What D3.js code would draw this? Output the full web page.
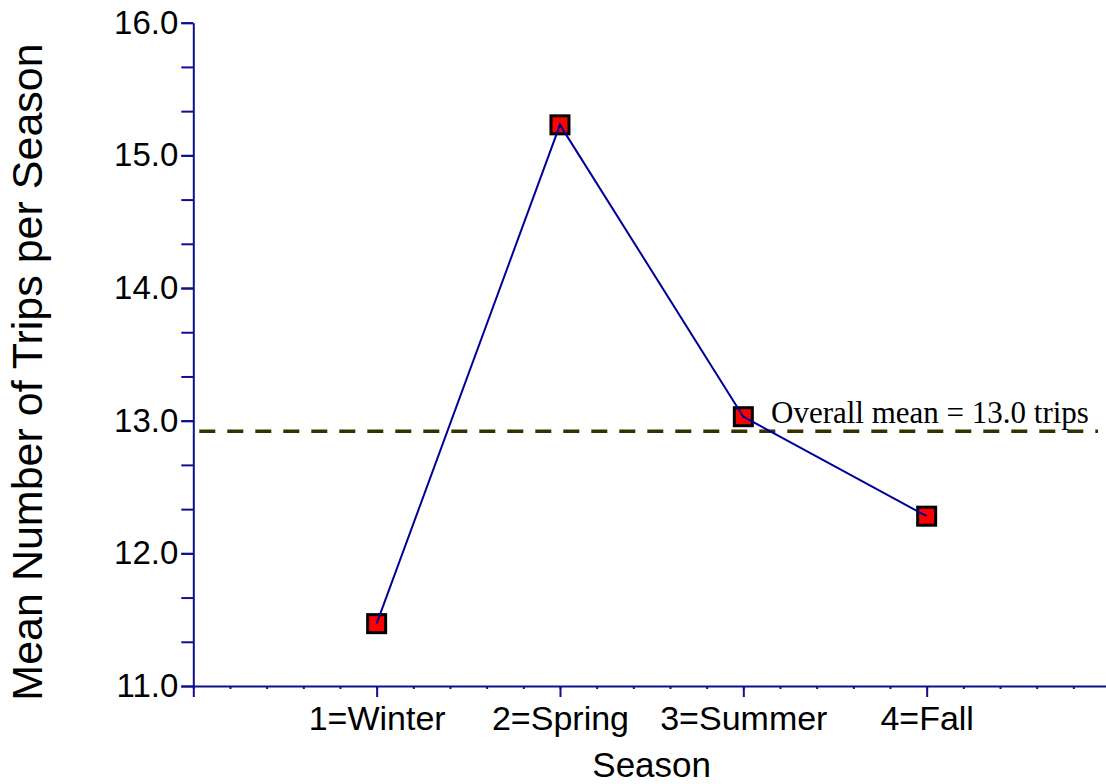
<!DOCTYPE html>
<html>
<head>
<meta charset="utf-8">
<script src="https://cdn.jsdelivr.net/npm/d3@7"></script>
<style>
  html, body { margin: 0; padding: 0; background: #fff; }
  svg { display: block; }
</style>
</head>
<body>
<svg id="chart" width="1106" height="784"></svg>
<script>
// ---- Data ----
const categories = ["1=Winter", "2=Spring", "3=Summer", "4=Fall"];
const positions = [1, 2, 3, 4];
const meanTrips = [11.47, 15.23, 13.03, 12.28];
const overallMean = 12.92;
const overallLabel = "Overall mean = 13.0 trips";
const yTicks = [11, 12, 13, 14, 15, 16];
const xTitle = "Season";
const yTitle = "Mean Number of Trips per Season";

// ---- Layout ----
const svg = d3.select("#chart");
const axisColor = "#10108c";
const x = d3.scaleLinear().domain([0, 5]).range([193.3, 1110]);
const y = d3.scaleLinear().domain([11, 16]).range([686, 22.7]);

// Y axis minor ticks
const yMinor = d3.range(11, 16.001, 1 / 3);
svg.append("g")
  .attr("transform", `translate(${x(0)},0)`)
  .call(d3.axisLeft(y).tickValues(yMinor).tickSize(12).tickSizeOuter(0).tickFormat(""))
  .call(g => g.select(".domain").remove())
  .call(g => g.selectAll("line").attr("stroke", axisColor).attr("stroke-width", 2));

// Y axis major
svg.append("g")
  .attr("transform", `translate(${x(0)},0)`)
  .call(d3.axisLeft(y).tickValues(yTicks).tickSize(12).tickSizeOuter(0).tickFormat(d3.format(".1f")))
  .call(g => g.select(".domain").attr("stroke", axisColor).attr("stroke-width", 2))
  .call(g => g.selectAll("line").attr("stroke", axisColor).attr("stroke-width", 2))
  .call(g => g.selectAll("text")
    .attr("fill", "#000")
    .attr("font-family", "'Liberation Sans', Arial, sans-serif")
    .attr("font-size", 33)
    .attr("x", -15)
    .attr("dy", "0.32em"));

// X axis minor
const xMinor = d3.range(0, 5.001, 0.2);
svg.append("g")
  .attr("transform", `translate(0,${y(11)})`)
  .call(d3.axisBottom(x).tickValues(xMinor).tickSize(3).tickSizeOuter(0).tickFormat(""))
  .call(g => g.select(".domain").attr("stroke", axisColor).attr("stroke-width", 2))
  .call(g => g.selectAll("line").attr("stroke", axisColor).attr("stroke-width", 2));

// X axis major
svg.append("g")
  .attr("transform", `translate(0,${y(11)})`)
  .call(d3.axisBottom(x).tickValues([0, ...positions, 5]).tickSize(11).tickSizeOuter(0)
    .tickFormat(d => { const i = positions.indexOf(d); return i >= 0 ? categories[i] : ""; }))
  .call(g => g.select(".domain").remove())
  .call(g => g.selectAll("line").attr("stroke", axisColor).attr("stroke-width", 2))
  .call(g => g.selectAll("text")
    .attr("fill", "#000")
    .attr("font-family", "'Liberation Sans', Arial, sans-serif")
    .attr("font-size", 34)
    .attr("y", 0)
    .attr("dy", 0)
    .attr("transform", "translate(0,44)"));

// Overall mean dashed line
svg.append("line")
  .attr("x1", x(0) + 6).attr("x2", 1098)
  .attr("y1", y(overallMean)).attr("y2", y(overallMean))
  .attr("stroke", "#333300")
  .attr("stroke-width", 3.5)
  .attr("stroke-dasharray", "16,12");

svg.append("text")
  .attr("x", 771).attr("y", y(overallMean) - 8)
  .attr("font-family", "'Liberation Serif', 'Times New Roman', serif")
  .attr("font-size", 31)
  .attr("fill", "#000")
  .text(overallLabel);

// Markers
const pts = positions.map((p, i) => ({ p, v: meanTrips[i] }));
svg.append("g").selectAll("rect").data(pts).join("rect")
  .attr("x", d => x(d.p) - 9).attr("y", d => y(d.v) - 9)
  .attr("width", 18).attr("height", 18)
  .attr("fill", "#ff0000").attr("stroke", "#000").attr("stroke-width", 3);

// Line on top
svg.append("path")
  .datum(pts)
  .attr("fill", "none")
  .attr("stroke", "#000099")
  .attr("stroke-width", 2)
  .attr("d", d3.line().x(d => x(d.p)).y(d => y(d.v)));

// Axis titles
svg.append("text")
  .attr("x", (x(0) + x(5)) / 2).attr("y", 777)
  .attr("text-anchor", "middle")
  .attr("font-family", "'Liberation Sans', Arial, sans-serif")
  .attr("font-size", 35)
  .attr("fill", "#000")
  .text(xTitle);

svg.append("text")
  .attr("transform", `translate(42,${372}) rotate(-90)`)
  .attr("text-anchor", "middle")
  .attr("font-family", "'Liberation Sans', Arial, sans-serif")
  .attr("font-size", 43)
  .attr("fill", "#000")
  .text(yTitle);
</script>
</body>
</html>
